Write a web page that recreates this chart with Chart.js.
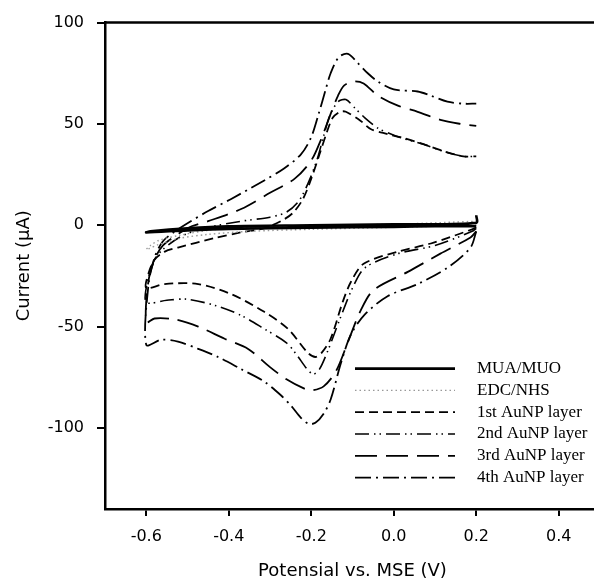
<!DOCTYPE html>
<html>
<head>
<meta charset="utf-8">
<script src="https://cdn.jsdelivr.net/npm/chart.js@4/dist/chart.umd.min.js"></script>
<style>
  html, body { margin: 0; padding: 0; background: #fff; overflow: hidden; }
  #wrap { width: 594px; height: 585px; overflow: hidden; }
</style>
</head>
<body>
<div id="wrap"><canvas id="cv" width="600" height="585"></canvas></div>
<script>
// tick labels
const xTicks = [-0.6, -0.4, -0.2, 0.0, 0.2, 0.4]
const yTicks = [-100, -50, 0, 50, 100]

const seriesNames = ['MUA/MUO', 'EDC/NHS', '1st AuNP layer', '2nd AuNP layer', '3rd AuNP layer', '4th AuNP layer']

// each curve: cathodic sweep (0.2 -> -0.6) then anodic sweep (-0.6 -> 0.2), [potential V, current uA]
const muaMuo = [
  [0.2, -0.5], [0.1, -0.5], [0, -0.8], [-0.2, -1.2], [-0.4, -1.8], [-0.5, -2.5], [-0.6, -3.5],
  [-0.59, -3], [-0.5, -1.5], [-0.4, -0.5], [-0.2, 0], [0, 0.5], [0.2, 1.2], [0.2, 5]
]
const edcNhs = [
  [0.2, 0], [0.1, -0.5], [0, -1], [-0.2, -2], [-0.35, -3], [-0.45, -4.5], [-0.52, -6.5], [-0.57, -9.5], [-0.6, -12],
  [-0.59, -10], [-0.57, -7.5], [-0.52, -5], [-0.45, -2.5], [-0.35, -1], [-0.2, 0], [0, 0.5], [0.2, 2]
]
const layer1 = [
  [0.2, -1], [0.19, -2], [0.09, -9], [0.01, -13], [-0.073, -19], [-0.104, -28], [-0.124, -38], [-0.153, -56],
  [-0.175, -63], [-0.19, -65], [-0.208, -63], [-0.257, -51], [-0.315, -42.6], [-0.394, -34], [-0.474, -29],
  [-0.556, -29], [-0.6, -31],
  [-0.595, -24], [-0.58, -17], [-0.555, -13], [-0.523, -11], [-0.436, -6.4], [-0.37, -3.5], [-0.315, -1.5],
  [-0.274, 2], [-0.245, 6], [-0.22, 13], [-0.2, 23], [-0.18, 35], [-0.162, 46], [-0.148, 53], [-0.13, 56],
  [-0.116, 56], [-0.08, 51.5], [-0.056, 47.5], [-0.015, 45], [0.024, 43], [0.072, 40], [0.12, 36.6], [0.169, 34], [0.2, 34]
]
const layer2 = [
  [0.2, -1.5], [0.19, -3], [0.1, -10], [0.01, -14], [-0.07, -21], [-0.1, -31], [-0.13, -46], [-0.16, -62],
  [-0.18, -71], [-0.195, -73.5], [-0.21, -71], [-0.235, -64], [-0.26, -58], [-0.315, -51], [-0.37, -44.5],
  [-0.426, -40], [-0.5, -36.5], [-0.55, -37], [-0.6, -38],
  [-0.595, -26], [-0.58, -17], [-0.56, -12], [-0.52, -6], [-0.47, -2], [-0.37, 2], [-0.3, 4], [-0.26, 6.5],
  [-0.23, 12], [-0.205, 22], [-0.185, 33], [-0.17, 44], [-0.155, 54], [-0.135, 61], [-0.116, 62], [-0.095, 58],
  [-0.07, 53], [-0.039, 48], [-0.007, 45], [0.02, 43], [0.072, 40], [0.12, 36.5], [0.169, 34], [0.2, 34]
]
const layer3 = [
  [0.2, -3], [0.186, -6], [0.113, -14], [0.034, -23], [-0.049, -32], [-0.08, -42], [-0.11, -57], [-0.14, -72],
  [-0.17, -79.5], [-0.2, -81.5], [-0.218, -80.5], [-0.26, -76], [-0.3, -70], [-0.353, -61], [-0.41, -56],
  [-0.474, -50], [-0.53, -46.5], [-0.58, -46], [-0.6, -48],
  [-0.595, -28], [-0.58, -17], [-0.56, -10], [-0.52, -4], [-0.49, -0.5], [-0.45, 2], [-0.37, 8], [-0.3, 16],
  [-0.24, 23], [-0.2, 32], [-0.175, 43], [-0.153, 55], [-0.135, 64], [-0.12, 69], [-0.097, 71], [-0.073, 70],
  [-0.039, 64], [0.01, 59], [0.058, 56], [0.113, 52], [0.162, 50], [0.2, 49]
]
const layer4 = [
  [0.2, -3], [0.186, -11], [0.13, -21], [0.058, -29], [-0.015, -35], [-0.07, -44], [-0.104, -54], [-0.128, -68],
  [-0.153, -86], [-0.17, -93], [-0.19, -97.5], [-0.206, -98], [-0.225, -95], [-0.249, -89], [-0.273, -84],
  [-0.315, -77], [-0.37, -71], [-0.426, -65], [-0.474, -61], [-0.523, -57.4], [-0.564, -56.5], [-0.6, -59],
  [-0.595, -30], [-0.58, -16], [-0.56, -8], [-0.53, -3], [-0.5, 1], [-0.45, 7], [-0.394, 13], [-0.315, 22],
  [-0.266, 28], [-0.225, 35], [-0.201, 43], [-0.182, 55], [-0.165, 67], [-0.153, 75], [-0.133, 83], [-0.111, 84.6],
  [-0.087, 80], [-0.063, 75], [-0.039, 71], [0, 67], [0.058, 66], [0.089, 64], [0.13, 61], [0.169, 60], [0.2, 60]
]

const curves = [muaMuo, edcNhs, layer1, layer2, layer3, layer4]
const styles = [
  { color: '#000', width: 2.6, dash: [] },
  { color: '#999', width: 1.4, dash: [1.5, 3] },
  { color: '#000', width: 1.8, dash: [9, 5] },
  { color: '#000', width: 1.6, dash: [14, 5, 1.5, 4, 1.5, 5] },
  { color: '#000', width: 1.8, dash: [22, 9] },
  { color: '#000', width: 1.8, dash: [16, 5, 2, 5] }
]

const frame = {
  id: 'frame',
  afterDraw(chart) {
    const { ctx, chartArea } = chart
    ctx.save()
    ctx.strokeStyle = '#000'
    ctx.lineWidth = 2.5
    ctx.beginPath()
    ctx.moveTo(chartArea.left, chartArea.top)
    ctx.lineTo(chartArea.right, chartArea.top)
    ctx.stroke()
    ctx.restore()
  }
}

const legendBox = {
  id: 'legendBox',
  afterDraw(chart) {
    const { ctx, chartArea } = chart
    const x0 = chartArea.left + 250
    const x1 = chartArea.left + 350
    const tx = chartArea.left + 372
    let y = chartArea.top + 346
    ctx.save()
    ctx.font = '17px "Liberation Serif", "Times New Roman", serif'
    ctx.textBaseline = 'middle'
    chart.data.datasets.forEach((ds) => {
      ctx.strokeStyle = ds.borderColor
      ctx.lineWidth = ds.borderWidth
      ctx.setLineDash(ds.borderDash)
      ctx.beginPath()
      ctx.moveTo(x0, y)
      ctx.lineTo(x1, y)
      ctx.stroke()
      ctx.setLineDash([])
      ctx.fillStyle = '#000'
      ctx.fillText(ds.label, tx, y)
      y += 21.8
    })
    ctx.restore()
  }
}

new Chart(document.getElementById('cv'), {
  type: 'scatter',
  data: {
    datasets: curves.map((c, i) => ({
      label: seriesNames[i],
      data: c.map(([x, y]) => ({ x, y })),
      showLine: true,
      borderColor: styles[i].color,
      borderWidth: styles[i].width,
      borderDash: styles[i].dash,
      pointRadius: 0,
      tension: 0.3,
      fill: false
    }))
  },
  options: {
    responsive: false,
    animation: false,
    layout: { padding: { top: 22, right: 0, left: 0, bottom: 0 } },
    plugins: {
      legend: { display: false },
      tooltip: { enabled: false }
    },
    scales: {
      x: {
        type: 'linear',
        min: -0.7,
        max: 0.5,
        afterBuildTicks: (s) => { s.ticks = xTicks.map(v => ({ value: v })) },
        afterFit: (s) => { s.height = 76 },
        ticks: {
          color: '#000',
          padding: 11,
          font: { family: '"DejaVu Sans", sans-serif', size: 16 },
          callback: (v) => v.toFixed(1)
        },
        grid: { drawOnChartArea: false, drawTicks: true, tickLength: 7, color: '#000', lineWidth: 2 },
        border: { display: true, color: '#000', width: 2.5 },
        title: {
          display: true,
          text: 'Potensial vs. MSE (V)',
          color: '#000',
          font: { family: '"DejaVu Sans", sans-serif', size: 18 },
          padding: { top: 0, bottom: 3 }
        }
      },
      y: {
        type: 'linear',
        min: -140,
        max: 100,
        afterBuildTicks: (s) => { s.ticks = yTicks.map(v => ({ value: v })) },
        afterFit: (s) => { s.width = 105 },
        ticks: {
          color: '#000',
          padding: 13,
          font: { family: '"DejaVu Sans", sans-serif', size: 16 }
        },
        grid: { drawOnChartArea: false, drawTicks: true, tickLength: 8, color: '#000', lineWidth: 2 },
        border: { display: true, color: '#000', width: 2.5 },
        title: {
          display: true,
          text: 'Current (µA)',
          color: '#000',
          font: { family: '"DejaVu Sans", sans-serif', size: 18 },
          padding: { top: 14, bottom: 0 }
        }
      }
    }
  },
  plugins: [frame, legendBox]
})
</script>
</body>
</html>
